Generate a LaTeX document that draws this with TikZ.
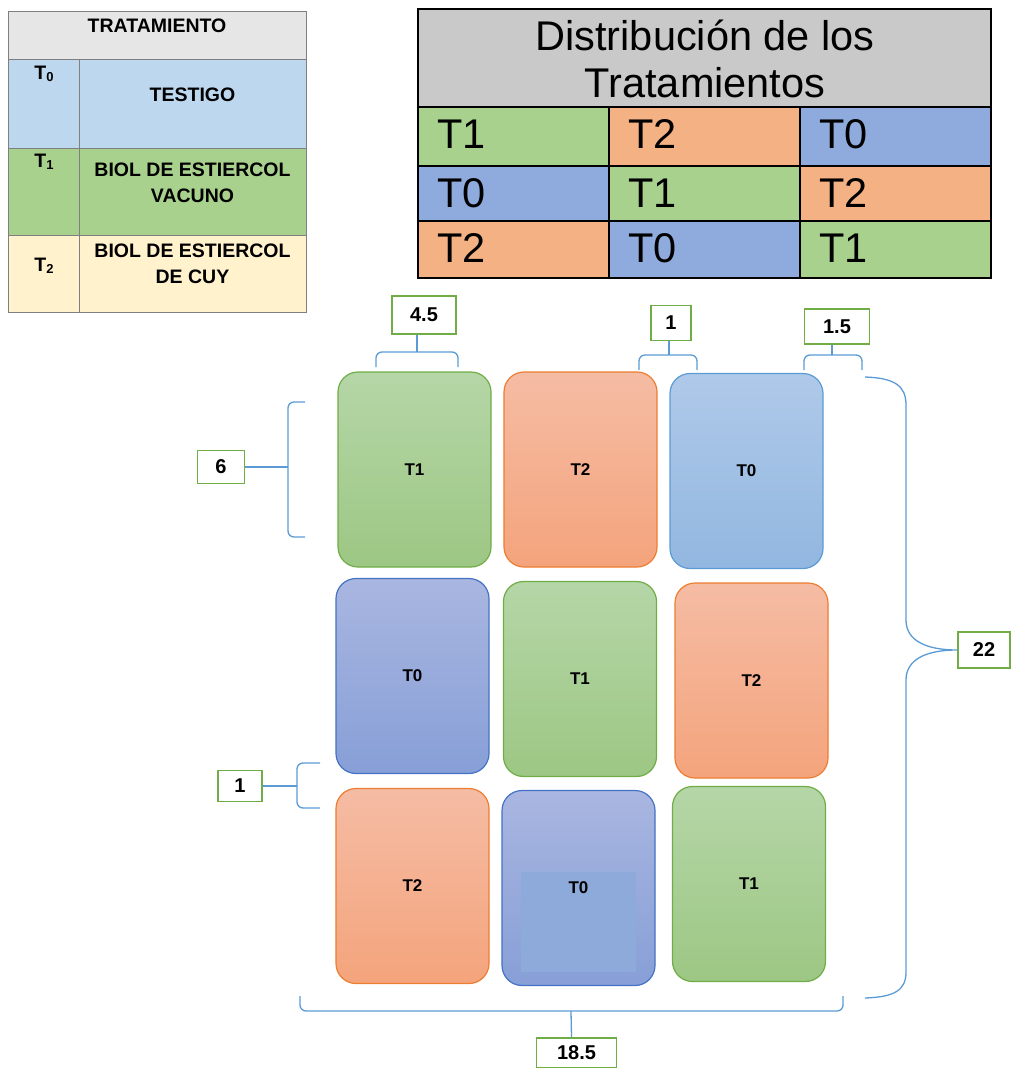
\documentclass[tikz,border=0pt]{standalone}
\usepackage{fontspec}
\setmainfont{Liberation Sans}
\definecolor{hdrL}{HTML}{E7E6E6}
\definecolor{tzL}{HTML}{BDD7EE}
\definecolor{toL}{HTML}{A9D18E}
\definecolor{ttL}{HTML}{FFF2CC}
\definecolor{hdrR}{HTML}{C9C9C9}
\definecolor{cG}{HTML}{A9D18E}
\definecolor{cO}{HTML}{F4B183}
\definecolor{cB}{HTML}{8FAADC}
\definecolor{gTop}{HTML}{B5D6A7}
\definecolor{gBot}{HTML}{9DC784}
\definecolor{gBd}{HTML}{70AD47}
\definecolor{oTop}{HTML}{F5BCA4}
\definecolor{oBot}{HTML}{F4A47C}
\definecolor{oBd}{HTML}{ED7D31}
\definecolor{lbTop}{HTML}{AFC9E9}
\definecolor{lbBot}{HTML}{92B7E0}
\definecolor{lbBd}{HTML}{5B9BD5}
\definecolor{pbTop}{HTML}{A9B6E0}
\definecolor{pbBot}{HTML}{879FD7}
\definecolor{pbBd}{HTML}{4472C4}
\definecolor{innerB}{HTML}{8EAADB}
\definecolor{braceC}{HTML}{5B9BD5}
\definecolor{boxBd}{HTML}{70AD47}
\definecolor{gridL}{HTML}{7F7F7F}
\tikzset{
  plotbox/.style={rounded corners=20pt, minimum width=153pt, minimum height=195pt,
    inner sep=0pt, font=\bfseries\fontsize{17}{20}\selectfont, line width=1.2pt},
  pgreen/.style={plotbox, draw=gBd, top color=gTop, bottom color=gBot},
  porange/.style={plotbox, draw=oBd, top color=oTop, bottom color=oBot},
  plblue/.style={plotbox, draw=lbBd, top color=lbTop, bottom color=lbBot},
  pblue/.style={plotbox, draw=pbBd, top color=pbTop, bottom color=pbBot},
  dimbox/.style={draw=boxBd, fill=white, line width=1.5pt, inner sep=0pt,
    font=\bfseries\fontsize{20}{24}\selectfont},
  bracep/.style={draw=braceC, line width=1.3pt, rounded corners=6pt},
  ltext/.style={font=\bfseries\fontsize{19.5}{26}\selectfont, align=center},
  rtext/.style={font=\fontsize{41.5}{46}\selectfont, inner sep=0pt},
  gridline/.style={draw=gridL, line width=0.8pt},
  rgrid/.style={draw=black, line width=1.2pt}
}
\begin{document}
\begin{tikzpicture}[x=1pt,y=-1pt]
\useasboundingbox (0,0) rectangle (1011,1068);
% ---------- left table ----------
\fill[hdrL] (8,11) rectangle (306,59);
\fill[tzL] (8,59) rectangle (306,148);
\fill[toL] (8,148) rectangle (306,235);
\fill[ttL] (8,235) rectangle (306,312);
\draw[gridline] (8,11) rectangle (306,312);
\draw[gridline] (8,59) -- (306,59);
\draw[gridline] (8,148) -- (306,148);
\draw[gridline] (8,235) -- (306,235);
\draw[gridline] (79,59) -- (79,312);
\node[ltext] (lhead) at (157,26) {TRATAMIENTO};
\node[ltext] (lt0) at (44,74) {T\raisebox{-2pt}{\fontsize{13}{13}\selectfont 0}};
\node[ltext] (lt1) at (44,162) {T\raisebox{-2pt}{\fontsize{13}{13}\selectfont 1}};
\node[ltext] (lt2) at (44,266) {T\raisebox{-2pt}{\fontsize{13}{13}\selectfont 2}};
\node[ltext] (ld0) at (192.5,94.5) {TESTIGO};
\node[ltext] (ld1) at (192.5,183) {BIOL DE ESTIERCOL\\VACUNO};
\node[ltext] (ld2) at (192.5,264) {BIOL DE ESTIERCOL\\DE CUY};
% ---------- right table ----------
\fill[hdrR] (418,9) rectangle (991,107);
\fill[cG] (418,107) rectangle (609,166);
\fill[cO] (609,107) rectangle (800,166);
\fill[cB] (800,107) rectangle (991,166);
\fill[cB] (418,166) rectangle (609,221);
\fill[cG] (609,166) rectangle (800,221);
\fill[cO] (800,166) rectangle (991,221);
\fill[cO] (418,221) rectangle (609,278);
\fill[cB] (609,221) rectangle (800,278);
\fill[cG] (800,221) rectangle (991,278);
\draw[rgrid] (418,9) rectangle (991,278);
\draw[rgrid] (418,107) -- (991,107);
\draw[rgrid] (418,166) -- (991,166);
\draw[rgrid] (418,221) -- (991,221);
\draw[rgrid] (609,107) -- (609,278);
\draw[rgrid] (800,107) -- (800,278);
\node[rtext, anchor=base] (rh1) at (705,50) {Distribución de los};
\node[rtext, anchor=base] (rh2) at (705,97) {Tratamientos};
\node[rtext, anchor=base west] (r11) at (437,148) {T1};
\node[rtext, anchor=base west] (r12) at (628,148) {T2};
\node[rtext, anchor=base west] (r13) at (819,148) {T0};
\node[rtext, anchor=base west] (r21) at (437,207) {T0};
\node[rtext, anchor=base west] (r22) at (628,207) {T1};
\node[rtext, anchor=base west] (r23) at (819,207) {T2};
\node[rtext, anchor=base west] (r31) at (437,262) {T2};
\node[rtext, anchor=base west] (r32) at (628,262) {T0};
\node[rtext, anchor=base west] (r33) at (819,262) {T1};
% ---------- plots ----------
\node[pgreen] (p11) at (414.5,469.5) {T1};
\node[porange] (p12) at (580.5,469.5) {T2};
\node[plblue] (p13) at (746.5,471) {T0};
\node[pblue] (p21) at (412.5,676) {T0};
\node[pgreen] (p22) at (580,679) {T1};
\node[porange] (p23) at (751.5,680.5) {T2};
\node[porange] (p31) at (412.5,886) {T2};
\node[pblue, path picture={\fill[innerB, sharp corners]
   ([shift={(-57.5,-16)}]path picture bounding box.center) rectangle
   ([shift={(57.5,84)}]path picture bounding box.center);}] (p32) at (578.5,888) {T0};
\node[pgreen] (p33) at (749,884) {T1};
% ---------- dimension boxes ----------
\node[dimbox, minimum width=64pt, minimum height=38pt] (d45) at (424,315) {4.5};
\node[dimbox, minimum width=40pt, minimum height=35pt] (d1a) at (671,323) {1};
\node[dimbox, minimum width=65pt, minimum height=35pt] (d15) at (837,326.5) {1.5};
\node[dimbox, minimum width=47pt, minimum height=33pt] (d6) at (221,467) {6};
\node[dimbox, minimum width=44pt, minimum height=31pt] (d1b) at (240,786) {1};
\node[dimbox, minimum width=52pt, minimum height=36pt] (d22) at (984,650) {22};
\node[dimbox, minimum width=80pt, minimum height=30pt] (d185) at (576.5,1053) {18.5};
% ---------- braces ----------
\draw[bracep] (376,367) |- (417,352) -| (458,367);
\draw[bracep] (417,352) -- ([xshift=-7pt]d45.south);
\draw[bracep] (639,370) |- (669,355) -| (697,370);
\draw[bracep] (669,355) -- ([xshift=-2pt]d1a.south);
\draw[bracep] (804,370) |- (832,355) -| (862,370);
\draw[bracep] (832,355) -- ([xshift=-5pt]d15.south);
\draw[bracep] (305,402) -| (288,467) |- (305,537);
\draw[bracep] (288,467) -- (d6.east);
\draw[bracep] (320,763) -| (297,786) |- (320,808);
\draw[bracep] (297,786) -- (d1b.east);
\draw[bracep] (300,996) |- (571,1011) -| (843,996);
\draw[bracep] (571,1011) -- ([xshift=-5pt]d185.north);
\draw[draw=braceC, line width=1.3pt]
  (865,377) .. controls (895,378) and (906,386) .. (906,405)
  -- (906,620) .. controls (906,640) and (925,650) .. (d22.west)
  .. controls (925,650) and (906,660) .. (906,680)
  -- (906,972) .. controls (906,990) and (895,997) .. (865,998);
\end{tikzpicture}
\end{document}
